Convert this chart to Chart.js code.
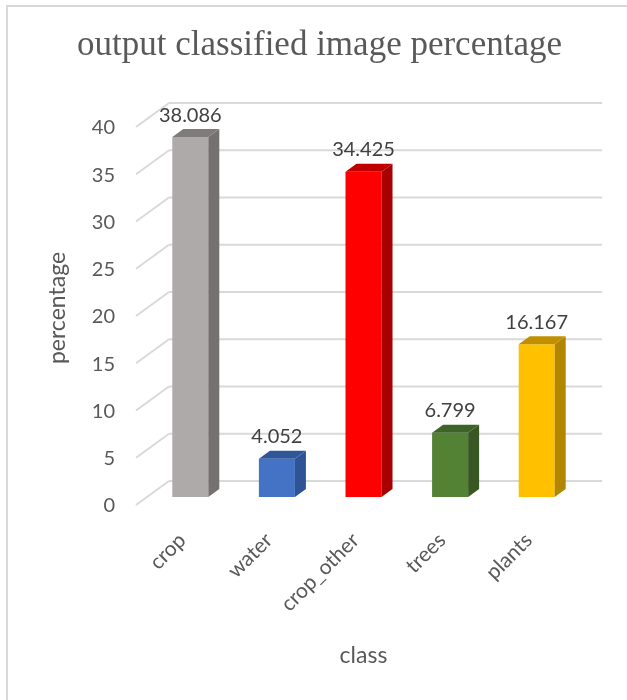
<!DOCTYPE html>
<html>
<head>
<meta charset="utf-8">
<script src="https://cdn.jsdelivr.net/npm/chart.js@4.4.1/dist/chart.umd.min.js"></script>
<style>
  body { margin: 0; background: #fff; }
  #wrap { width: 627px; height: 700px; }
</style>
</head>
<body>
<div id="wrap"><canvas id="chart" width="627" height="700"></canvas></div>
<script>
// data
const classes = ['crop', 'water', 'crop_other', 'trees', 'plants'];
const percentages = [38.086, 4.052, 34.425, 6.799, 16.167];
const yTicks = [0, 5, 10, 15, 20, 25, 30, 35, 40];

// front / side / top colours per bar
const frontColors = ['#AEAAAA', '#4472C4', '#FF0000', '#548235', '#FFC000'];
const sideColors = ['#767171', '#2F5496', '#A80000', '#385723', '#B38600'];
const topColors = ['#7F7B7B', '#30569A', '#C00000', '#3D6328', '#C09000'];

// bar depth (perspective offset), floor is 3 bars deep
const DX = 11, DY = 8;

// 3d look: back wall gridlines, left wall diagonals, side and top faces
const fake3d = {
    id: 'fake3d',
    beforeDraw(chart) {
        const ctx = chart.ctx;
        ctx.save();
        ctx.strokeStyle = '#D9D9D9';
        ctx.lineWidth = 2;
        ctx.strokeRect(7, 6, 700, 800);
        ctx.restore();
    },
    beforeDatasetsDraw(chart) {
        const ctx = chart.ctx;
        const y = chart.scales.y;
        const area = chart.chartArea;
        ctx.save();
        ctx.strokeStyle = '#D9D9D9';
        ctx.lineWidth = 2;
        yTicks.forEach(v => {
            const py = y.getPixelForValue(v);
            // back wall line
            ctx.beginPath();
            ctx.moveTo(area.left + 2 * DX, py - 2 * DY);
            ctx.lineTo(area.right + 2 * DX, py - 2 * DY);
            ctx.stroke();
            // left wall diagonal
            ctx.beginPath();
            ctx.moveTo(area.left - DX, py + DY);
            ctx.lineTo(area.left + 2 * DX, py - 2 * DY);
            ctx.stroke();
        });
        ctx.restore();
    },
    afterDatasetsDraw(chart) {
        const ctx = chart.ctx;
        const meta = chart.getDatasetMeta(0);
        ctx.save();
        meta.data.forEach((bar, i) => {
            const p = bar.getProps(['x', 'y', 'base', 'width'], true);
            const l = p.x - p.width / 2, r = p.x + p.width / 2;
            // side
            ctx.fillStyle = sideColors[i];
            ctx.beginPath();
            ctx.moveTo(r, p.y);
            ctx.lineTo(r + DX, p.y - DY);
            ctx.lineTo(r + DX, p.base - DY);
            ctx.lineTo(r, p.base);
            ctx.closePath();
            ctx.fill();
            // top
            ctx.fillStyle = topColors[i];
            ctx.beginPath();
            ctx.moveTo(l, p.y);
            ctx.lineTo(l + DX, p.y - DY);
            ctx.lineTo(r + DX, p.y - DY);
            ctx.lineTo(r, p.y);
            ctx.closePath();
            ctx.fill();
            // value label
            ctx.fillStyle = '#404040';
            ctx.font = '20px Lato';
            ctx.textAlign = 'center';
            ctx.textBaseline = 'middle';
            ctx.fillText(percentages[i].toFixed(3), p.x, p.y - 22);
        });
        ctx.restore();
    }
};

new Chart(document.getElementById('chart'), {
    type: 'bar',
    data: {
        labels: classes,
        datasets: [{
            data: percentages,
            backgroundColor: frontColors,
            borderWidth: 0,
            barPercentage: 0.416,
            categoryPercentage: 1
        }]
    },
    options: {
        responsive: false,
        animation: false,
        layout: { padding: { left: 59, right: 47, top: 0, bottom: 0 } },
        plugins: {
            legend: { display: false },
            tooltip: { enabled: false },
            title: {
                display: true,
                text: 'output classified image percentage',
                color: '#595959',
                font: { family: 'Liberation Serif', size: 35, weight: 'normal', lineHeight: 1.2 },
                padding: { top: 25, bottom: 52 }
            }
        },
        scales: {
            y: {
                min: 0,
                max: 40,
                afterBuildTicks(scale) {
                    scale.ticks = yTicks.map(v => ({ value: v }));
                },
                afterFit(scale) { scale.width = 88; },
                grid: { display: false, drawTicks: false },
                border: { display: false },
                ticks: {
                    color: '#595959',
                    font: { family: 'Lato', size: 20 },
                    padding: 32,
                    labelOffset: 9
                },
                title: {
                    display: true,
                    text: 'percentage',
                    color: '#595959',
                    font: { family: 'Lato', size: 23, lineHeight: 1.2 },
                    padding: { top: -15, bottom: 0 }
                }
            },
            x: {
                afterFit(scale) { scale.height = 203; },
                grid: { display: false, drawTicks: false },
                border: { display: false },
                ticks: {
                    color: '#595959',
                    font: { family: 'Lato', size: 21 },
                    minRotation: 45,
                    maxRotation: 45,
                    padding: 31,
                    labelOffset: -8
                },
                title: {
                    display: true,
                    text: 'class',
                    color: '#595959',
                    font: { family: 'Lato', size: 23, lineHeight: 1.2 },
                    padding: { top: 0, bottom: 31 }
                }
            }
        }
    },
    plugins: [fake3d]
});
</script>
</body>
</html>
